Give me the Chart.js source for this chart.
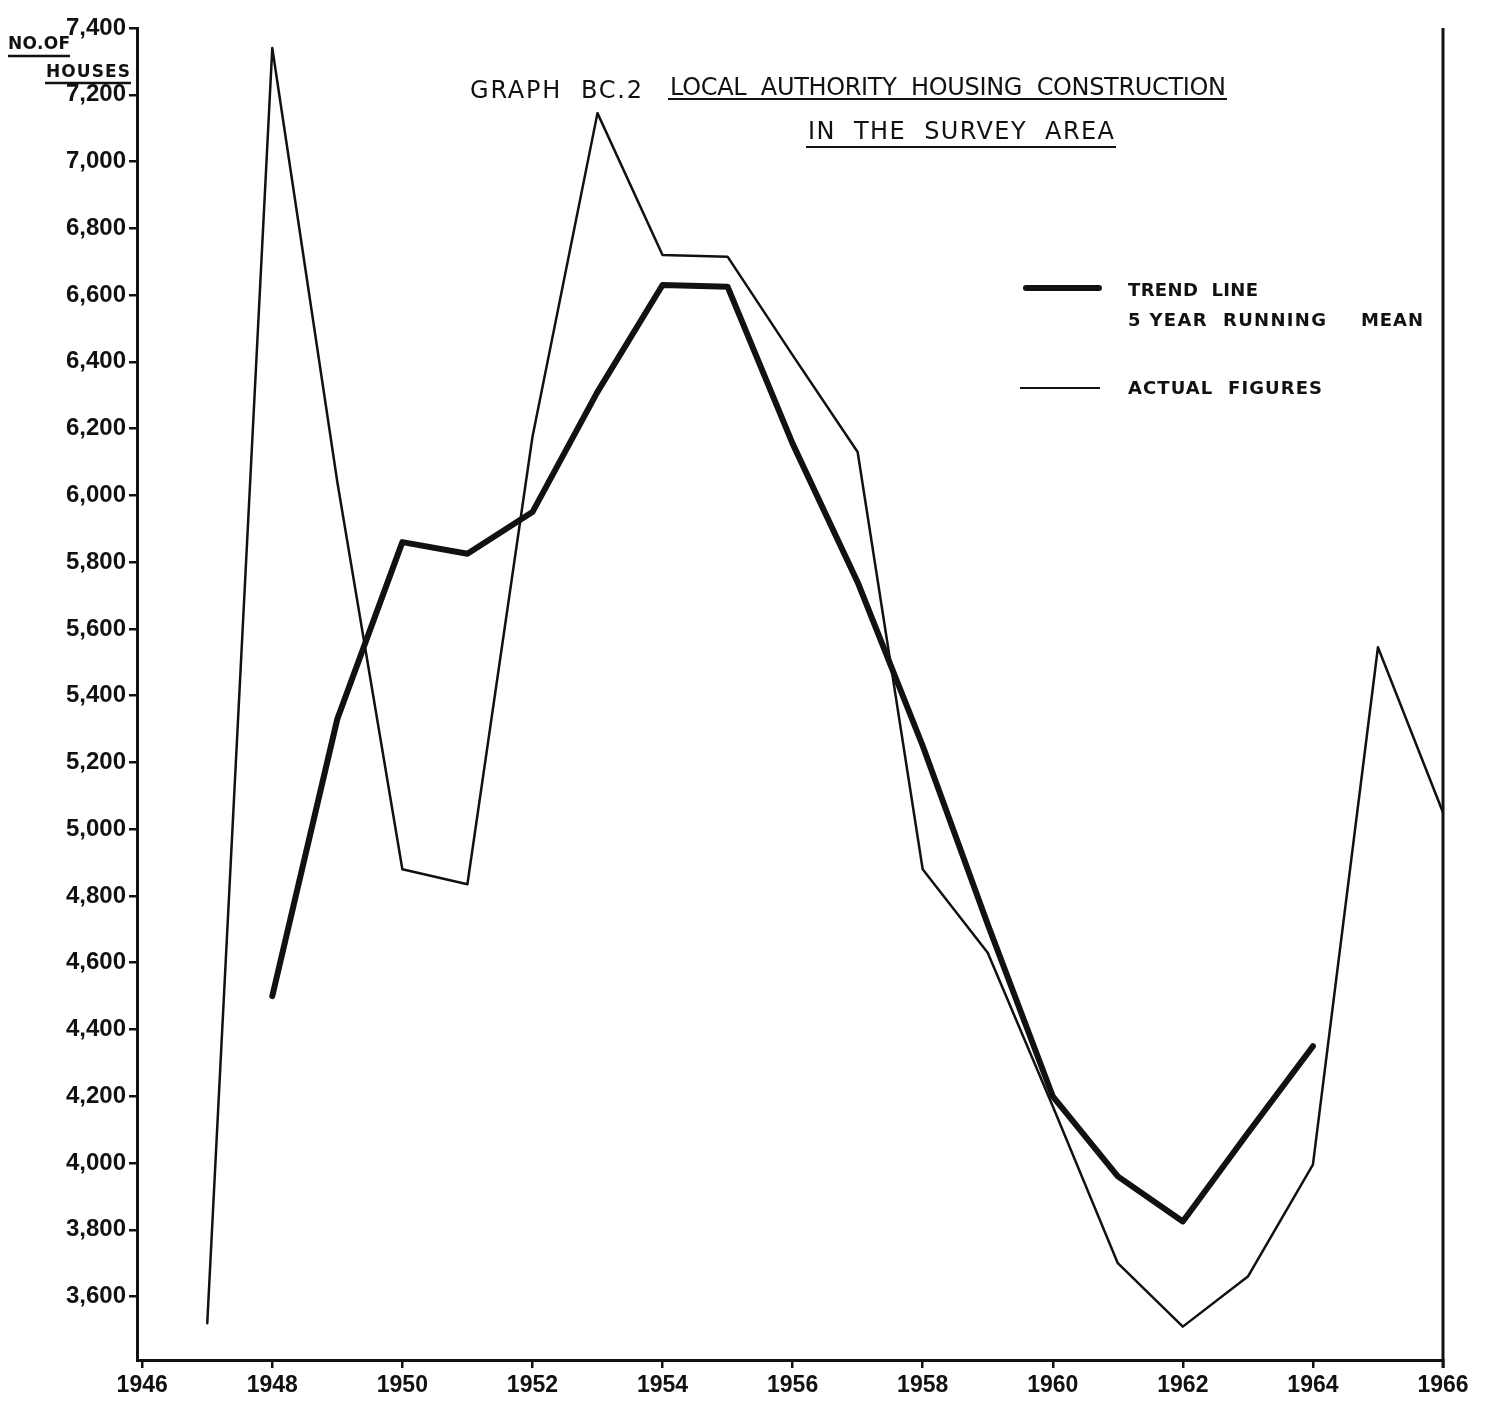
<!DOCTYPE html>
<html>
<head>
<meta charset="utf-8">
<script src="https://cdn.jsdelivr.net/npm/chart.js@4.4.1/dist/chart.umd.min.js"></script>
<style>
    html, body { margin: 0; padding: 0; background: #fff; }
    #wrap { width: 1486px; height: 1405px; position: relative; }
</style>
</head>
<body>
<div id="wrap"><canvas id="myChart"></canvas></div>
<script>
const actualYears  = [1947, 1948, 1949, 1950, 1951, 1952, 1953, 1954, 1955, 1956, 1957, 1958, 1959, 1960, 1961, 1962, 1963, 1964, 1965, 1966];
const actualValues = [3520, 7340, 6040, 4880, 4835, 6175, 7145, 6720, 6715, 6420, 6130, 4880, 4630, 4170, 3700, 3510, 3660, 3995, 5545, 5050];

const trendYears  = [1948, 1949, 1950, 1951, 1952, 1953, 1954, 1955, 1956, 1957, 1958, 1959, 1960, 1961, 1962, 1963, 1964];
const trendValues = [4500, 5330, 5860, 5825, 5950, 6310, 6630, 6625, 6155, 5740, 5250, 4715, 4200, 3960, 3825, 4090, 4350];

const xTickYears  = [1946, 1948, 1950, 1952, 1954, 1956, 1958, 1960, 1962, 1964, 1966];
const yTickValues = [3600, 3800, 4000, 4200, 4400, 4600, 4800, 5000, 5200, 5400, 5600, 5800, 6000, 6200, 6400, 6600, 6800, 7000, 7200, 7400];
const yTickLabels = ['3,600', '3,800', '4,000', '4,200', '4,400', '4,600', '4,800', '5,000', '5,200', '5,400',
                     '5,600', '5,800', '6,000', '6,200', '6,400', '6,600', '6,800', '7,000', '7,200', '7,400'];

const ink = '#111';
const tickFont = "'Liberation Sans', Arial, sans-serif";
const plain = "'DejaVu Sans', sans-serif";

// draw text with letter spacing so it covers the given width (only squeezed a little)
const drawFit = function(ctx, text, x, y, w) {
    ctx.letterSpacing = '0px';
    const base = ctx.measureText(text).width;
    const sp = text.length > 1 ? Math.max(-1, (w - base) / (text.length - 1)) : 0;
    ctx.letterSpacing = sp + 'px';
    ctx.fillText(text, x, y);
    ctx.letterSpacing = '0px';
};

const line = function(ctx, x1, y1, x2, y2, w) {
    ctx.lineWidth = w;
    ctx.beginPath();
    ctx.moveTo(x1, y1);
    ctx.lineTo(x2, y2);
    ctx.stroke();
};

const paperText = {
    id: 'paperText',
    afterDraw(chart) {
        const ctx = chart.ctx;
        const area = chart.chartArea;
        ctx.save();
        ctx.fillStyle = ink;
        ctx.strokeStyle = ink;
        ctx.textBaseline = 'alphabetic';
        ctx.textAlign = 'left';

        // right frame
        line(ctx, area.right, area.top, area.right, area.bottom + 8, 3);

        // axis title
        ctx.font = "bold 17px " + plain;
        drawFit(ctx, 'NO.OF', 8, 49, 62);
        line(ctx, 8, 56, 70, 56, 2.5);
        drawFit(ctx, 'HOUSES', 46, 77, 84);
        line(ctx, 45, 83, 131, 83, 2.5);

        // title
        ctx.font = "24px " + plain;
        drawFit(ctx, 'GRAPH  BC.2', 470, 98, 172);
        drawFit(ctx, 'LOCAL  AUTHORITY  HOUSING  CONSTRUCTION', 670, 95, 556);
        line(ctx, 668, 99, 1227, 99, 2);
        drawFit(ctx, 'IN  THE  SURVEY  AREA', 808, 139, 306);
        line(ctx, 806, 147, 1116, 147, 2);

        // legend
        ctx.lineCap = 'round';
        line(ctx, 1026, 288, 1099, 288, 6);
        ctx.lineCap = 'butt';
        line(ctx, 1020, 388, 1100, 388, 2);
        ctx.font = "bold 18px " + plain;
        drawFit(ctx, 'TREND  LINE', 1128, 296, 130);
        drawFit(ctx, '5 YEAR  RUNNING', 1128, 326, 198);
        drawFit(ctx, 'MEAN', 1361, 326, 62);
        drawFit(ctx, 'ACTUAL  FIGURES', 1128, 394, 194);

        ctx.restore();
    }
};

const draw = function() {
    const data = {
        datasets: [{
            label: 'TREND LINE 5 YEAR RUNNING MEAN',
            data: trendYears.map((yr, i) => ({ x: yr, y: trendValues[i] })),
            borderColor: ink,
            borderWidth: 6,
            borderJoinStyle: 'round',
            borderCapStyle: 'round',
            pointRadius: 0,
            tension: 0,
        }, {
            label: 'ACTUAL FIGURES',
            data: actualYears.map((yr, i) => ({ x: yr, y: actualValues[i] })),
            borderColor: ink,
            borderWidth: 2.5,
            borderJoinStyle: 'round',
            borderCapStyle: 'round',
            pointRadius: 0,
            tension: 0,
        }],
    };

    const options = {
        responsive: true,
        maintainAspectRatio: false,
        animation: false,
        layout: {
            padding: { top: 28, right: 43, left: 0, bottom: 0 }
        },
        plugins: {
            legend: { display: false },
            tooltip: { enabled: false },
        },
        scales: {
            x: {
                type: 'linear',
                min: 1945.92,
                max: 1966,
                afterBuildTicks: function(scale) {
                    scale.ticks = xTickYears.map(v => ({ value: v }));
                },
                afterFit: function(scale) {
                    scale.height = 45;
                },
                border: { display: true, color: ink, width: 3 },
                grid: {
                    display: true,
                    drawOnChartArea: false,
                    drawTicks: true,
                    tickLength: 8,
                    color: ink,
                    lineWidth: 2.5
                },
                ticks: {
                    autoSkip: false,
                    maxRotation: 0,
                    padding: 4,
                    color: ink,
                    font: { family: tickFont, size: 23, weight: 'bold' },
                    callback: v => String(v)
                }
            },
            y: {
                min: 3410,
                max: 7400,
                afterBuildTicks: function(scale) {
                    scale.ticks = yTickValues.map(v => ({ value: v }));
                },
                afterFit: function(scale) {
                    scale.width = 137;
                },
                border: { display: true, color: ink, width: 3 },
                grid: {
                    display: true,
                    drawOnChartArea: false,
                    drawTicks: true,
                    tickLength: 8,
                    color: ink,
                    lineWidth: 2.5
                },
                ticks: {
                    padding: 3,
                    color: ink,
                    font: { family: tickFont, size: 24, weight: 'bold' },
                    callback: v => yTickLabels[yTickValues.indexOf(v)]
                }
            },
        },
    };

    const ctx = document.getElementById('myChart');
    window.houses = new Chart(ctx, {
        type: 'line',
        data: data,
        options: options,
        plugins: [paperText],
    });
};

draw();
</script>
</body>
</html>
